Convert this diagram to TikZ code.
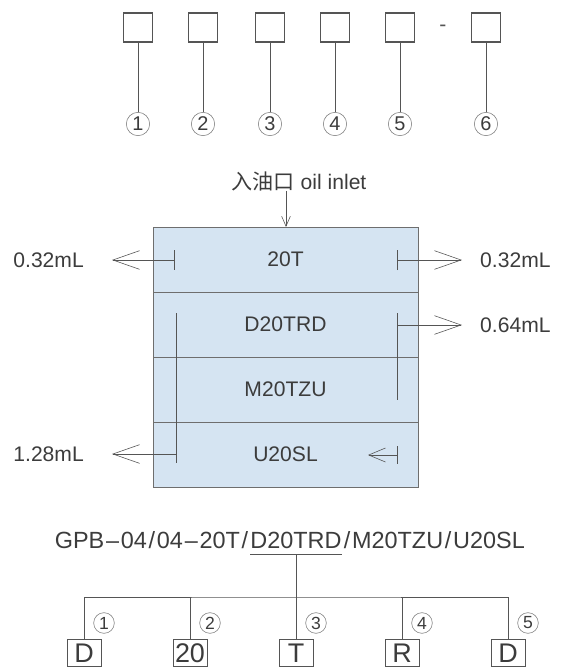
\documentclass[tikz,border=0pt]{standalone}
\usepackage{fontspec}
\setmainfont{Liberation Sans}
\newfontfamily\cjk{Noto Sans CJK SC}
\usetikzlibrary{positioning,arrows.meta}
\definecolor{boxblue}{RGB}{213,228,242}
\definecolor{linec}{RGB}{85,85,85}
\definecolor{txtc}{RGB}{60,60,60}
\newcommand\mdsep[1]{\kern1.5pt#1\kern1.5pt}
\tikzset{
  code/.style  = {draw=linec, line width=1.1pt, minimum size=0.87cm, inner sep=0pt},
  num/.style   = {circle, draw=linec!75, line width=0.5pt, inner sep=0pt,
                  minimum size=0.7cm, text=txtc, font=\fontsize{17}{17}\selectfont},
  snum/.style  = {num, minimum size=0.62cm, font=\fontsize{15}{15}\selectfont},
  row/.style   = {draw=linec!85, fill=boxblue, line width=0.7pt, inner sep=0pt,
                  minimum width=7.95cm, minimum height=1.95cm, text=txtc,
                  font=\fontsize{18}{20}\selectfont},
  vol/.style   = {inner sep=0pt, text=txtc, font=\fontsize{18}{20}\selectfont},
  mdl/.style   = {inner xsep=0pt, inner ysep=5pt, text=txtc,
                  font=\fontsize{20}{22}\selectfont},
  part/.style  = {draw=linec, line width=0.8pt, inner sep=0pt, minimum width=1.02cm,
                  minimum height=0.8cm, text=txtc, font=\fontsize{23}{23}\selectfont},
  ln/.style    = {draw=linec, line width=0.7pt},
  volar/.style = {ln, line width=0.5pt, {Bar[width=6mm]}-{Straight Barb[length=8mm,width=5.6mm]}},
  ar/.style    = {ln, line width=0.5pt, -{Straight Barb[length=8mm,width=5.6mm]}},
  sar/.style   = {ln, line width=0.5pt, {Bar[width=5.4mm]}-{Straight Barb[length=5mm,width=4.2mm]}},
  inar/.style  = {ln, line width=0.5pt, -{Straight Barb[length=3mm,width=2.6mm]}},
}
\begin{document}
\begin{tikzpicture}[x=0.03cm, y=-0.03cm]
\useasboundingbox (0,0) rectangle (564,667);
\foreach \x [count=\i] in {138,203,270,335,400,486} {
  \node[code] (c\i) at (\x,27.5) {};
  \node[num] (n\i) at (\x,124) {\i};
  \draw[ln] (c\i) -- (n\i);
}
\node[text=linec, font=\fontsize{18}{20}\selectfont] (dash) at (443,28) {-};

\node[vol] (inlet) at (299,181) {{\cjk 入油口} oil inlet};
\node[row] (r1) at (285.5,259.5) {20T};
\node[row] (r2) at (285.5,324.5) {D20TRD};
\node[row] (r3) at (285.5,389.5) {M20TZU};
\node[row] (r4) at (285.5,454.5) {U20SL};
\coordinate (inp) at (286,227);
\draw[inar] (inlet.south -| inp) -- (inp);

\coordinate (t1l) at (175,260);
\coordinate (e1l) at (112,260);
\coordinate (t1r) at (397,260);
\coordinate (e1r) at (462,260);
\coordinate (t2r) at (397,325);
\coordinate (e2r) at (462,325);
\coordinate (t4l) at (176,454);
\coordinate (e4l) at (112,454);
\coordinate (t4r) at (398,455);
\coordinate (e4r) at (368,455);
\node[vol, anchor=east] (v1l) at (84,260) {0.32mL};
\node[vol, anchor=west] (v1r) at (480,260) {0.32mL};
\node[vol, anchor=west] (v2r) at (480,325) {0.64mL};
\node[vol, anchor=east] (v4l) at (84,454) {1.28mL};
\draw[volar] (t1l) -- (e1l);
\draw[volar] (t1r) -- (e1r);
\draw[ln] (397,313) -- (397,400);
\draw[ar] (t2r) -- (e2r);
\draw[ln] (176,313) -- (176,463);
\draw[ar] (t4l) -- (e4l);
\draw[sar] (t4r) -- (e4r);

\node[mdl, anchor=base] (msel) at (296,548) {D20TRD};
\node[mdl, anchor=base east] (mpre) at (msel.base west)
     {GPB\mdsep{--}04\mdsep{/}04\mdsep{--}20T\mdsep{/}};
\node[mdl, anchor=base west] (mpost) at (msel.base east)
     {\mdsep{/}M20TZU\mdsep{/}U20SL};
\draw[ln] (msel.south west) -- (msel.south east);

\foreach \x/\t [count=\i] in {84/D,190/20,296/T,402/R,508/D} {
  \node[part] (p\i) at (\x,653) {\t};
  \node[snum] (q\i) at (\x+20,623) {\i};
}
\coordinate (bus) at (296,597);
\draw[ln] (p1.north) |- (bus) -| (p5.north);
\draw[ln] (p2.north) -- (p2.north |- bus);
\draw[ln] (p4.north) -- (p4.north |- bus);
\draw[ln] (msel.south) -- (p3.north);
\end{tikzpicture}
\end{document}
